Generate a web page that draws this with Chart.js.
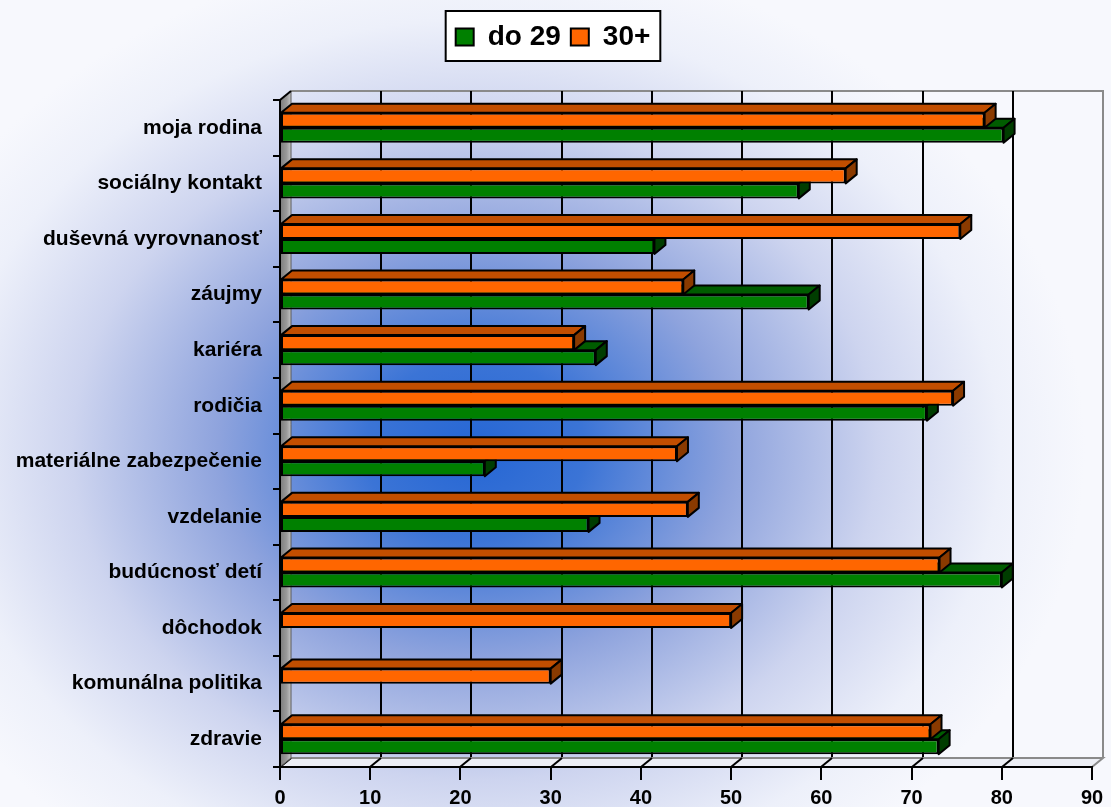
<!DOCTYPE html>
<html>
<head>
<meta charset="utf-8">
<script src="https://cdn.jsdelivr.net/npm/chart.js@4.4.1/dist/chart.umd.min.js"></script>
<style>
  html, body { margin:0; padding:0; background:#f4f5fb; }
  #wrap { position:relative; width:1111px; height:807px; }
</style>
</head>
<body>
<div id="wrap"><canvas id="chart"></canvas></div>
<script>
/* ===== Data ===== */
const categories = [
  'moja rodina', 'sociálny kontakt', 'duševná vyrovnanosť', 'záujmy', 'kariéra', 'rodičia',
  'materiálne zabezpečenie', 'vzdelanie', 'budúcnosť detí', 'dôchodok', 'komunálna politika', 'zdravie'
];
const seriesNames = ['do 29', '30+'];
const valuesDo29 = [80.2, 57.5, 41.5, 58.6, 35.0, 71.7, 22.7, 34.2, 80.0, null, null, 73.0];
const values30   = [78.1, 62.7, 75.4, 44.7, 32.6, 74.6, 44.0, 45.2, 73.1, 50.0, 30.0, 72.1];
const xMin = 0, xMax = 90, xStep = 10;

/* ===== Look ===== */
const FONT = "'Liberation Sans', Arial, sans-serif";
const DX = 11, DY = -9;          // depth of the 3d box
const PAD_TOP = 13, LEGEND_BAND = 87, LEGEND_SHIFT = 7;
const GREEN  = { front:'#008000', top:'#005c00', side:'#003d00' };
const ORANGE = { front:'#ff6600', top:'#c24e00', side:'#8a3a00' };

/* ===== 3D helpers ===== */
function poly(ctx, pts, fill, stroke, lw){
  ctx.beginPath();
  ctx.moveTo(pts[0][0], pts[0][1]);
  for (let i = 1; i < pts.length; i++) ctx.lineTo(pts[i][0], pts[i][1]);
  ctx.closePath();
  if (fill){ ctx.fillStyle = fill; ctx.fill(); }
  if (stroke){ ctx.strokeStyle = stroke; ctx.lineWidth = lw || 1; ctx.stroke(); }
}

const box3d = {
  id: 'box3d',
  afterInit(chart){
    // legend keeps a fixed band above the plot, nudged a bit right
    const lg = chart.legend;
    const fit = lg.fit, draw = lg.draw;
    lg.fit = function(){ fit.call(this); this.height = LEGEND_BAND; };
    lg.draw = function(){
      this.ctx.save(); this.ctx.translate(LEGEND_SHIFT, 0);
      draw.call(this);
      this.ctx.restore();
    };
  },
  beforeDraw(chart){
    const { ctx, chartArea:a, width, height } = chart;
    const xs = chart.scales.x;
    const L = a.left, R = a.right, T = a.top, B = a.bottom;

    // background with blue glow
    ctx.save();
    ctx.fillStyle = '#f5f6fc';
    ctx.fillRect(0, 0, width, height);
    const cx = 475, cy = 450, sy = 0.82;
    ctx.translate(cx, cy); ctx.scale(1, sy);
    const g = ctx.createRadialGradient(0, 0, 0, 0, 0, 610);
    g.addColorStop(0.00, '#2566d4');
    g.addColorStop(0.18, '#3b74d6');
    g.addColorStop(0.42, '#8ea3dd');
    g.addColorStop(0.66, '#cdd4ef');
    g.addColorStop(0.86, '#edf0fa');
    g.addColorStop(1.00, '#f7f8fd');
    ctx.fillStyle = g;
    ctx.fillRect(-cx, -cy / sy, width, height / sy);
    ctx.restore();

    ctx.save();
    // back wall edges
    ctx.strokeStyle = '#8a8a8a'; ctx.lineWidth = 2;
    ctx.beginPath();
    ctx.moveTo(L + DX, T + DY); ctx.lineTo(R + DX, T + DY); ctx.lineTo(R + DX, B + DY);
    ctx.stroke();

    // back wall grid lines
    ctx.strokeStyle = '#000'; ctx.lineWidth = 2;
    for (let v = xMin + xStep; v < xMax; v += xStep){
      const px = Math.round(xs.getPixelForValue(v)) + DX;
      ctx.beginPath(); ctx.moveTo(px, T + DY); ctx.lineTo(px, B + DY); ctx.stroke();
    }

    // floor
    poly(ctx, [[L, B], [L + DX, B + DY], [R + DX, B + DY], [R, B]], '#eceef5', '#8a8a8a', 2);
    ctx.strokeStyle = '#000'; ctx.lineWidth = 2;
    for (let v = xMin; v < xMax; v += xStep){
      const px = Math.round(xs.getPixelForValue(v));
      ctx.beginPath(); ctx.moveTo(px, B); ctx.lineTo(px + DX, B + DY); ctx.stroke();
    }

    // left wall
    const wg = ctx.createLinearGradient(L, 0, L + DX, 0);
    wg.addColorStop(0, '#7c7c7c'); wg.addColorStop(0.6, '#9a9a9a'); wg.addColorStop(1, '#c4c4c4');
    poly(ctx, [[L, T], [L + DX, T + DY], [L + DX, B + DY], [L, B]], wg, '#5a5a5a', 1);
    ctx.strokeStyle = '#000'; ctx.lineWidth = 2;
    ctx.beginPath(); ctx.moveTo(L, T); ctx.lineTo(L + DX, T + DY); ctx.stroke();

    // legend frame
    const hb = chart.legend.legendHitBoxes || [];
    if (hb.length){
      const l = Math.min(...hb.map(h => h.left)) - 10 + LEGEND_SHIFT;
      const r = Math.max(...hb.map(h => h.left + h.width)) + 10 + LEGEND_SHIFT;
      const t = hb[0].top - 12, b = hb[0].top + hb[0].height + 10;
      ctx.fillStyle = '#fff'; ctx.fillRect(l, t, r - l, b - t);
      ctx.strokeStyle = '#000'; ctx.lineWidth = 2; ctx.strokeRect(l, t, r - l, b - t);
    }
    ctx.restore();
  },
  beforeDatasetDraw(chart, args){
    const { ctx } = chart;
    const ds = chart.data.datasets[args.index];
    const c = ds.faces;
    ctx.save();
    ctx.lineJoin = 'round';
    args.meta.data.forEach((bar, i) => {
      if (ds.data[i] == null) return;
      const { x, y, base, height } = bar.getProps(['x', 'y', 'base', 'height'], true);
      const t = y - height / 2, b = y + height / 2;
      poly(ctx, [[base, t], [base + DX, t + DY], [x + DX, t + DY], [x, t]], c.top, '#000', 2);
      poly(ctx, [[x, t], [x + DX, t + DY], [x + DX, b + DY], [x, b]], c.side, '#000', 2);
    });
    ctx.restore();
  }
};

/* ===== Chart ===== */
new Chart(document.getElementById('chart'), {
  type: 'bar',
  data: {
    labels: categories,
    datasets: [
      { label: seriesNames[1], data: values30, backgroundColor: ORANGE.front, borderColor: '#000',
        borderWidth: 2, borderSkipped: false, faces: ORANGE },
      { label: seriesNames[0], data: valuesDo29, backgroundColor: GREEN.front, borderColor: '#000',
        borderWidth: 2, borderSkipped: false, faces: GREEN }
    ]
  },
  options: {
    indexAxis: 'y',
    responsive: true,
    maintainAspectRatio: false,
    animation: false,
    datasets: { bar: { categoryPercentage: 0.54, barPercentage: 1 } },
    layout: { padding: { top: PAD_TOP, right: 19, bottom: 0, left: 0 } },
    plugins: {
      tooltip: { enabled: false },
      legend: {
        position: 'top',
        reverse: true,
        labels: { color: '#000', font: { family: FONT, size: 28, weight: 'bold' },
                  boxWidth: 18, boxHeight: 17, padding: 10 }
      }
    },
    scales: {
      x: {
        type: 'linear', min: xMin, max: xMax,
        ticks: { stepSize: xStep, color: '#000', padding: 6,
                 font: { family: FONT, size: 20, weight: 'bold' } },
        grid: { drawOnChartArea: false, drawTicks: true, tickLength: 13, color: '#000', lineWidth: 2 },
        border: { color: '#000', width: 2 },
        afterFit: (s) => { s.height = 40; }
      },
      y: {
        type: 'category', offset: true,
        ticks: { color: '#000', padding: 11, autoSkip: false,
                 font: { family: FONT, size: 21, weight: 'bold' } },
        grid: { offset: true, drawOnChartArea: false, drawTicks: true, tickLength: 7, color: '#000', lineWidth: 2 },
        border: { color: '#000', width: 2 },
        afterFit: (s) => { s.width = 280; }
      }
    }
  },
  plugins: [box3d]
});
</script>
</body>
</html>
